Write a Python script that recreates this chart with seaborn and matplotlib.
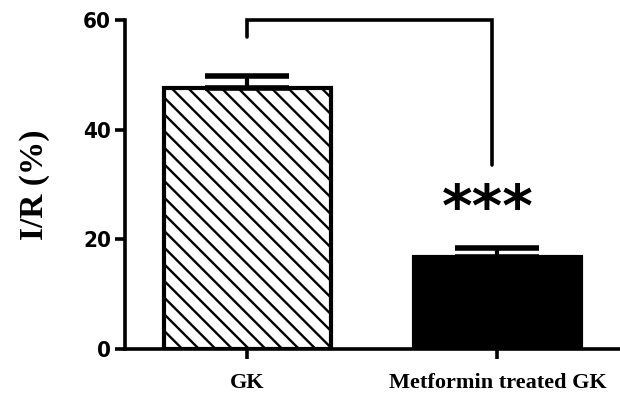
import matplotlib
matplotlib.use("Agg")
import matplotlib.pyplot as plt
import seaborn as sns
import pandas as pd

# Ischemia / reperfusion ratio per group (mean and SEM)
groups = ["GK", "Metformin treated GK"]
means = [47.6, 16.8]
sems = [2.2, 1.6]
y_ticks = [0, 20, 40, 60]
sig_label = "***"

sns.set_theme(style="ticks", rc={
    "axes.edgecolor": "black",
    "xtick.color": "black",
    "ytick.color": "black",
    "text.color": "black",
    "axes.labelcolor": "black",
})
plt.rcParams["font.family"] = ["DejaVu Sans"]
plt.rcParams["hatch.linewidth"] = 1.7

df = pd.DataFrame({"group": groups, "ratio": means})

fig = plt.figure(figsize=(6.2, 4.0), dpi=100)
ax = fig.add_axes([0.2016, 0.1275, 0.7984, 0.8225])

sns.barplot(data=df, x="group", y="ratio", ax=ax, width=0.665,
            errorbar=None, color="white", saturation=1)

fills = ["white", "black"]
hatches = ["\\\\", ""]
for patch, fc, h in zip(ax.patches, fills, hatches):
    patch.set_facecolor(fc)
    patch.set_edgecolor("black")
    patch.set_linewidth(3)
    patch.set_hatch(h)
    patch.set_joinstyle("miter")

# one-sided error bars (upwards only)
xs = list(range(len(groups)))
ax.errorbar(xs, means, yerr=[[0] * len(sems), sems], fmt="none",
            ecolor="black", elinewidth=3, capsize=30, capthick=4, zorder=5)

# significance bracket
ax.plot([0, 0, 0.98, 0.98], [56.9, 60.0, 60.0, 33.6], color="black",
        lw=2.6, solid_joinstyle="miter", clip_on=False, zorder=6)
ax.text(0.96, 25.4, sig_label, ha="center", va="center", fontsize=42,
        fontweight="bold", family=["DejaVu Sans"])

ax.set_xlim(-0.49, 1.49)
ax.set_ylim(0, 60)
ax.set_yticks(y_ticks)
ax.set_yticklabels([str(t) for t in y_ticks], fontsize=16, fontweight="bold",
                   fontstretch="condensed")
ax.set_xticks(xs)
ax.set_xticklabels(groups, fontsize=16, fontweight="bold",
                   family=["Liberation Serif"])

ax.set_xlabel("")
ax.set_ylabel("I/R (%)", fontsize=24, fontweight="bold",
              family=["Liberation Serif"], labelpad=24)

sns.despine(ax=ax)
for side in ["left", "bottom"]:
    ax.spines[side].set_linewidth(2.6)
ax.tick_params(axis="both", width=2.6, length=7, color="black")
ax.tick_params(axis="x", pad=10)
ax.tick_params(axis="y", pad=3)

fig.savefig("out.png", dpi=100)
